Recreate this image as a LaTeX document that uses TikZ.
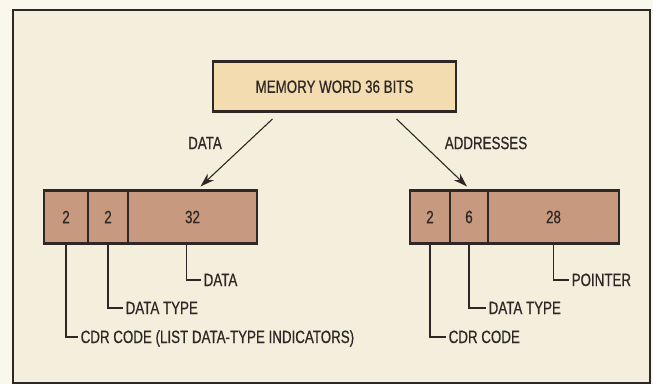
\documentclass[tikz,border=0pt]{standalone}
\usepackage{fontspec}
\setmainfont{Liberation Sans}[FakeStretch=0.75, FakeBold=0.6]
\usetikzlibrary{positioning,fit,arrows.meta,calc}
\definecolor{paper}{HTML}{FAF7EC}
\definecolor{panel}{HTML}{F4EFDC}
\definecolor{ink}{HTML}{2E2725}
\definecolor{wordfill}{HTML}{F2DCB0}
\definecolor{fieldfill}{HTML}{C79A7F}

\begin{document}
\begin{tikzpicture}[
    x=1pt, y=-1pt,
    every node/.style={font=\fontsize{17.8}{20}\selectfont, text=ink},
    wordbox/.style={rectangle, draw=ink, line width=2.5pt, fill=wordfill, minimum width=243pt, minimum height=50pt, inner sep=0pt},
    cell/.style={rectangle, draw=ink, line width=1.2pt, fill=fieldfill, minimum height=53pt, inner sep=0pt, outer sep=0pt},
    outline/.style={rectangle, draw=ink, line width=2.5pt, inner sep=0pt},
    arrow/.style={-{Stealth[length=14pt, width=9pt]}, line width=1.1pt, draw=ink},
    leader/.style={line width=1.1pt, draw=ink},
    note/.style={anchor=west, inner sep=2.5pt, text height=12pt, text depth=0pt}
]
\useasboundingbox (0,0) rectangle (653,384);

% Background and frame
\fill[paper] (0,0) rectangle (653,384);
\fill[panel] (13,10) rectangle (650,383);
\draw[ink, line width=2.5pt] (13,10) rectangle (650,383);

% Memory word
\node[wordbox] (mem) at (334.5,86.7) {MEMORY WORD 36 BITS};

% Data word fields
\node[cell, minimum width=44pt, anchor=west] (cdrA) at (44,217) {2};
\node[cell, minimum width=40pt, right=0pt of cdrA] (typeA) {2};
\node[cell, minimum width=129pt, right=0pt of typeA] (dataA) {32};
\node[outline, fit=(cdrA)(dataA)] (wordA) {};

% Address word fields
\node[cell, minimum width=40pt, anchor=west] (cdrB) at (410,217) {2};
\node[cell, minimum width=38pt, right=0pt of cdrB] (typeB) {6};
\node[cell, minimum width=131pt, right=0pt of typeB] (ptrB) {28};
\node[outline, fit=(cdrB)(ptrB)] (wordB) {};

% Arrows
\draw[arrow] ([xshift=-62pt, yshift=-6pt]mem.south) -- ([xshift=8pt, yshift=4pt]dataA.north);
\draw[arrow] ([xshift=62pt, yshift=-6pt]mem.south) -- ([xshift=-2pt, yshift=4pt]typeB.north);
\node (lData) at (205,143) {DATA};
\node (lAddr) at (486,143) {ADDRESSES};

% Field names, data word
\node[note] (nDataA) at (201,280) {DATA};
\node[note] (nTypeA) at (123,308) {DATA TYPE};
\node[note] (nCdrA) at (78,337) {CDR CODE (LIST DATA-TYPE INDICATORS)};
\draw[leader] ([xshift=-6pt]dataA.south) |- (nDataA.west);
\draw[leader] (typeA.south) |- (nTypeA.west);
\draw[leader] (cdrA.south) |- (nCdrA.west);

% Field names, address word
\node[note] (nPtrB) at (569,280) {POINTER};
\node[note] (nTypeB) at (486,308) {DATA TYPE};
\node[note] (nCdrB) at (446,337) {CDR CODE};
\draw[leader] (ptrB.south) |- (nPtrB.west);
\draw[leader] (typeB.south) |- (nTypeB.west);
\draw[leader] (cdrB.south) |- (nCdrB.west);

\end{tikzpicture}
\end{document}
